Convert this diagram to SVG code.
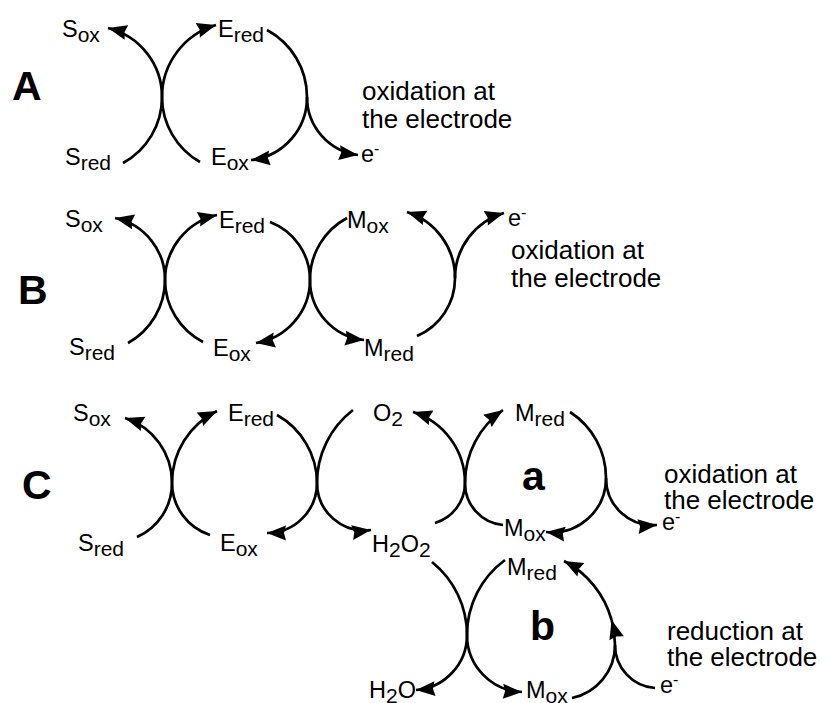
<svg xmlns="http://www.w3.org/2000/svg" width="826" height="703" viewBox="0 0 826 703">
<defs>
<marker id="ah" markerUnits="userSpaceOnUse" markerWidth="20" markerHeight="16" refX="19" refY="7.5" orient="auto" overflow="visible"><path d="M0,0 L19,7.5 L0,15 L2,7.5 z" fill="#000"/></marker>
<style>
text{font-family:"Liberation Sans",Arial,Helvetica,sans-serif;fill:#000}
.lb{font-size:23.5px}
.sub{font-size:21px}
.big{font-size:41px;font-weight:bold}
.desc{font-size:26px}
.sup{font-size:16px}
.c path{fill:none;stroke:#000;stroke-width:2.7}
.c path.ar{marker-end:url(#ah)}
</style>
</defs>
<rect width="826" height="703" fill="#fff"/>

<g class="c" id="connectors">
<!-- Panel A -->
<path class="ar" d="M123,163 A75,75 0 0 0 162,97 A71,71 0 0 0 108,28"/>
<path class="ar" d="M200,162 A75,75 0 0 1 162,97 A75,75 0 0 1 216,25"/>
<path class="ar" d="M267,30 A76,76 0 0 1 307,97 A63,63 0 0 1 251,160"/>
<path class="ar" d="M307,97 A58.5,58.5 0 0 0 358,155"/>
<!-- Panel B -->
<path class="ar" d="M128,343 A72,72 0 0 0 165,280 A63,63 0 0 0 115,218"/>
<path class="ar" d="M203,342 A70,70 0 0 1 165,280 A67,67 0 0 1 217,215"/>
<path class="ar" d="M270,222 A62,62 0 0 1 310,280 A64,64 0 0 1 256,343"/>
<path class="ar" d="M347,218 A70,70 0 0 0 310,280 A60,60 0 0 0 364,340"/>
<path class="ar" d="M417,336 A63,63 0 0 0 455,278 A69,69 0 0 0 407,212"/>
<path class="ar" d="M455,278 A68,68 0 0 1 504,213"/>
<!-- Panel C -->
<path class="ar" d="M137,537 A59,59 0 0 0 172,483 A68,68 0 0 0 125,418"/>
<path class="ar" d="M210,535 A55,55 0 0 1 172,483 A80,80 0 0 1 217,411"/>
<path class="ar" d="M277,415 A78,78 0 0 1 317,483 A50,50 0 0 1 267,533"/>
<path class="ar" d="M353,410 A92,92 0 0 0 317,483 A47.5,47.5 0 0 0 371,530"/>
<path class="ar" d="M435,523 A42,42 0 0 0 465,483 A74.5,74.5 0 0 0 413,412"/>
<path class="ar" d="M503,525 A42,42 0 0 1 465,483 A89,89 0 0 1 503,410"/>
<path class="ar" d="M570,412 A78.5,78.5 0 0 1 606,478 A54,54 0 0 1 546,532"/>
<path class="ar" d="M606,478 A47,47 0 0 0 657,525"/>
<path class="ar" d="M432,562 A93.6,93.6 0 0 1 467,635 A55,55 0 0 1 416,690"/>
<path class="ar" d="M505,560 A93,93 0 0 0 467,635 A57,57 0 0 0 522,692"/>
<path d="M572,698 A54,54 0 0 0 615,645"/>
<path d="M655,688 A43,43 0 0 1 615,645"/>
<path class="ar" d="M615,645 A94.7,94.7 0 0 0 611.6,620"/>
<path class="ar" d="M611.6,620 A94.7,94.7 0 0 0 564,561"/>
</g>

<!-- Panel A -->
<g id="A-label"><text class="big" x="12" y="100">A</text></g>
<g id="A-Sox"><text class="lb" x="62" y="37">S<tspan class="sub" dy="5">ox</tspan></text></g>
<g id="A-Ered"><text class="lb" x="218" y="37">E<tspan class="sub" dy="5">red</tspan></text></g>
<g id="A-Sred"><text class="lb" x="65" y="165">S<tspan class="sub" dy="5">red</tspan></text></g>
<g id="A-Eox"><text class="lb" x="211" y="165">E<tspan class="sub" dy="5">ox</tspan></text></g>
<g id="A-e"><text class="lb" x="361" y="162">e<tspan class="sup" dy="-8">-</tspan></text></g>
<g id="A-text"><text class="desc" x="362" y="100">oxidation at</text><text class="desc" x="362" y="128">the electrode</text></g>

<!-- Panel B -->
<g id="B-label"><text class="big" x="18" y="304">B</text></g>
<g id="B-Sox"><text class="lb" x="65" y="227">S<tspan class="sub" dy="5">ox</tspan></text></g>
<g id="B-Ered"><text class="lb" x="219" y="228">E<tspan class="sub" dy="5">red</tspan></text></g>
<g id="B-Mox"><text class="lb" x="347" y="228">M<tspan class="sub" dy="5">ox</tspan></text></g>
<g id="B-e"><text class="lb" x="508" y="226">e<tspan class="sup" dy="-8">-</tspan></text></g>
<g id="B-text"><text class="desc" x="511" y="259">oxidation at</text><text class="desc" x="511" y="287">the electrode</text></g>
<g id="B-Sred"><text class="lb" x="69" y="355">S<tspan class="sub" dy="5">red</tspan></text></g>
<g id="B-Eox"><text class="lb" x="213" y="356">E<tspan class="sub" dy="5">ox</tspan></text></g>
<g id="B-Mred"><text class="lb" x="364" y="356">M<tspan class="sub" dy="5">red</tspan></text></g>

<!-- Panel C -->
<g id="C-label"><text class="big" x="22" y="499">C</text></g>
<g id="C-Sox"><text class="lb" x="73" y="421">S<tspan class="sub" dy="5">ox</tspan></text></g>
<g id="C-Ered"><text class="lb" x="228" y="421">E<tspan class="sub" dy="5">red</tspan></text></g>
<g id="C-O2"><text class="lb" x="373" y="421">O<tspan class="sub" dy="5">2</tspan></text></g>
<g id="C-Mred-a"><text class="lb" x="515" y="421">M<tspan class="sub" dy="5">red</tspan></text></g>
<g id="C-a"><text class="big" x="522" y="490">a</text></g>
<g id="C-text-a"><text class="desc" x="664" y="483">oxidation at</text><text class="desc" x="664" y="509">the electrode</text></g>
<g id="C-e-a"><text class="lb" x="662" y="530">e<tspan class="sup" dy="-8">-</tspan></text></g>
<g id="C-Sred"><text class="lb" x="78" y="551">S<tspan class="sub" dy="5">red</tspan></text></g>
<g id="C-Eox"><text class="lb" x="220" y="551">E<tspan class="sub" dy="5">ox</tspan></text></g>
<g id="C-H2O2"><text class="lb" x="372" y="552">H<tspan class="sub" dy="5">2</tspan><tspan dy="-5">O</tspan><tspan class="sub" dy="5">2</tspan></text></g>
<g id="C-Mox-a"><text class="lb" x="504" y="536">M<tspan class="sub" dy="5">ox</tspan></text></g>
<g id="C-Mred-b"><text class="lb" x="507" y="575">M<tspan class="sub" dy="5">red</tspan></text></g>
<g id="C-b"><text class="big" x="530" y="640">b</text></g>
<g id="C-text-b"><text class="desc" x="667" y="640">reduction at</text><text class="desc" x="667" y="666">the electrode</text></g>
<g id="C-e-b"><text class="lb" x="660" y="693">e<tspan class="sup" dy="-8">-</tspan></text></g>
<g id="C-H2O"><text class="lb" x="369" y="698">H<tspan class="sub" dy="5">2</tspan><tspan dy="-5">O</tspan></text></g>
<g id="C-Mox-b"><text class="lb" x="526" y="698">M<tspan class="sub" dy="5">ox</tspan></text></g>
</svg>
